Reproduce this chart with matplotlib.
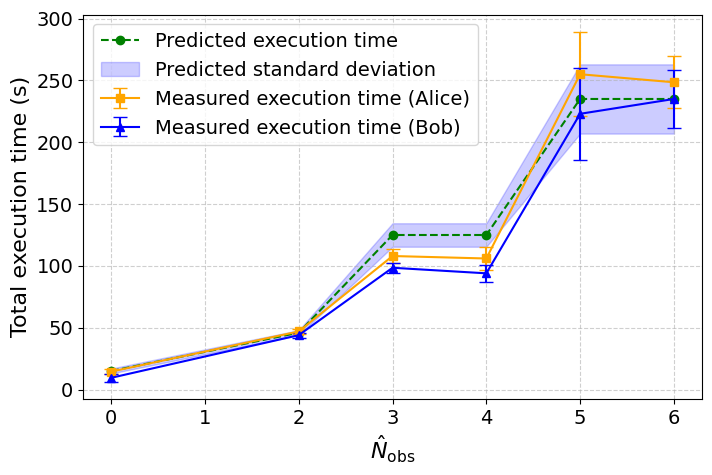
import matplotlib.pyplot as plt
import numpy as np

x = [0, 2, 3, 4, 5, 6]
predicted = [15, 46, 125, 125, 235, 235]
predicted_std = [2, 2, 9.5, 9.5, 28, 28]
alice = [14.5, 47, 108, 106, 255, 248.5]
alice_err = [2, 2, 5.5, 9, 34, 21]
bob = [9.5, 44, 98.5, 94, 223, 235]
bob_err = [3, 2, 4, 7, 37, 23.5]

pred = np.array(predicted)
std = np.array(predicted_std)

fig, ax = plt.subplots(figsize=(7.12, 4.75), dpi=100)

ax.plot(x, predicted, color='green', linestyle='--', marker='o', markersize=6,
        label='Predicted execution time')
ax.fill_between(x, pred - std, pred + std, color='blue', alpha=0.2,
                label='Predicted standard deviation')
ax.errorbar(x, alice, yerr=alice_err, color='orange', marker='s', markersize=6,
            capsize=5, label='Measured execution time (Alice)')
ax.errorbar(x, bob, yerr=bob_err, color='blue', marker='^', markersize=6,
            capsize=5, label='Measured execution time (Bob)')

ax.set_xlabel(r'$\hat{N}_{\mathrm{obs}}$', fontsize=16)
ax.set_ylabel('Total execution time (s)', fontsize=16)
ax.tick_params(labelsize=14)
ax.set_yticks([0, 50, 100, 150, 200, 250, 300])
ax.grid(True, linestyle='--', alpha=0.6)
ax.legend(fontsize=14, loc='upper left')

plt.subplots_adjust(left=0.1166, right=0.986, top=0.969, bottom=0.16)
plt.savefig('out.png', dpi=100)
